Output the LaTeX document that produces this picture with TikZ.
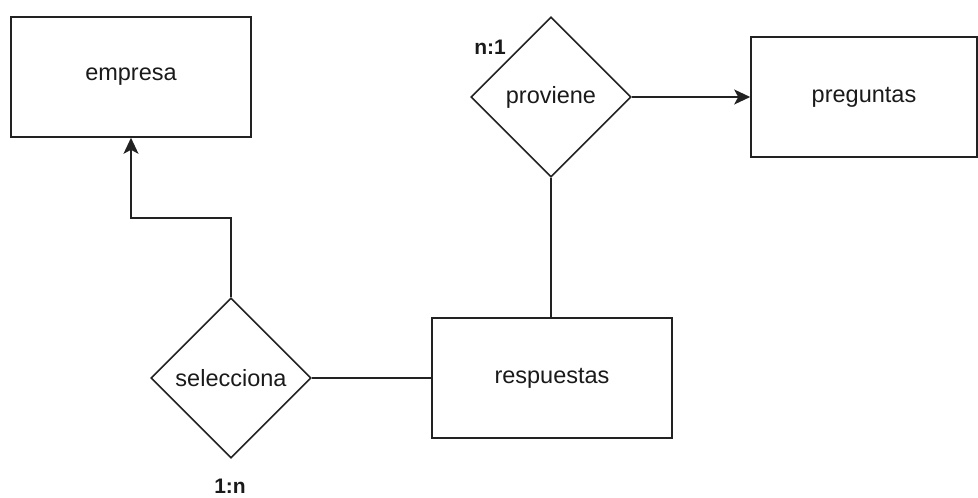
\documentclass[tikz,border=0pt]{standalone}
\usepackage{fontspec}
\setmainfont{Liberation Sans}
\usetikzlibrary{shapes.geometric,arrows.meta}
\definecolor{linec}{HTML}{222222}
\definecolor{textc}{HTML}{1A1A1A}
\begin{document}
\begin{tikzpicture}[x=1pt,y=-1pt,
  entity/.style={draw=linec,line width=1.6pt,minimum width=240pt,minimum height=120pt,inner sep=0pt,font=\fontsize{23.5}{27}\selectfont,text=textc},
  relation/.style={diamond,aspect=1,draw=linec,line width=1.6pt,minimum width=160pt,minimum height=160pt,inner sep=0pt,font=\fontsize{23.5}{27}\selectfont,text=textc},
  card/.style={font=\fontsize{21}{25}\selectfont\bfseries,text=textc,inner sep=0pt},
  conn/.style={draw=linec,line width=1.6pt},
  arr/.style={conn,-{Stealth[length=16pt,width=15pt,inset=4pt]}}]
\useasboundingbox (0,0) rectangle (978,498);
\node[entity] (empresa) at (131,77) {empresa};
\node[entity,minimum width=226pt] (preguntas) at (864,97) {preguntas};
\node[entity] (respuestas) at (552,378) {respuestas};
\node[relation] (proviene) at (551,97) {proviene};
\node[relation] (selecciona) at (231,378) {selecciona};
\node[card] (n1) at (490,47) {n:1};
\node[card] (1n) at (230,486) {1:n};
\coordinate (bend1) at (231,218);
\coordinate (bend2) at (131,218);
\draw[arr] (proviene.east) -- (preguntas.west);
\draw[conn] (proviene.south) -- (respuestas.north -| proviene.south);
\draw[conn] (selecciona.east) -- (respuestas.west);
\draw[arr] (selecciona.north) -- (bend1) -- (bend2) -- (empresa.south);
\end{tikzpicture}
\end{document}
